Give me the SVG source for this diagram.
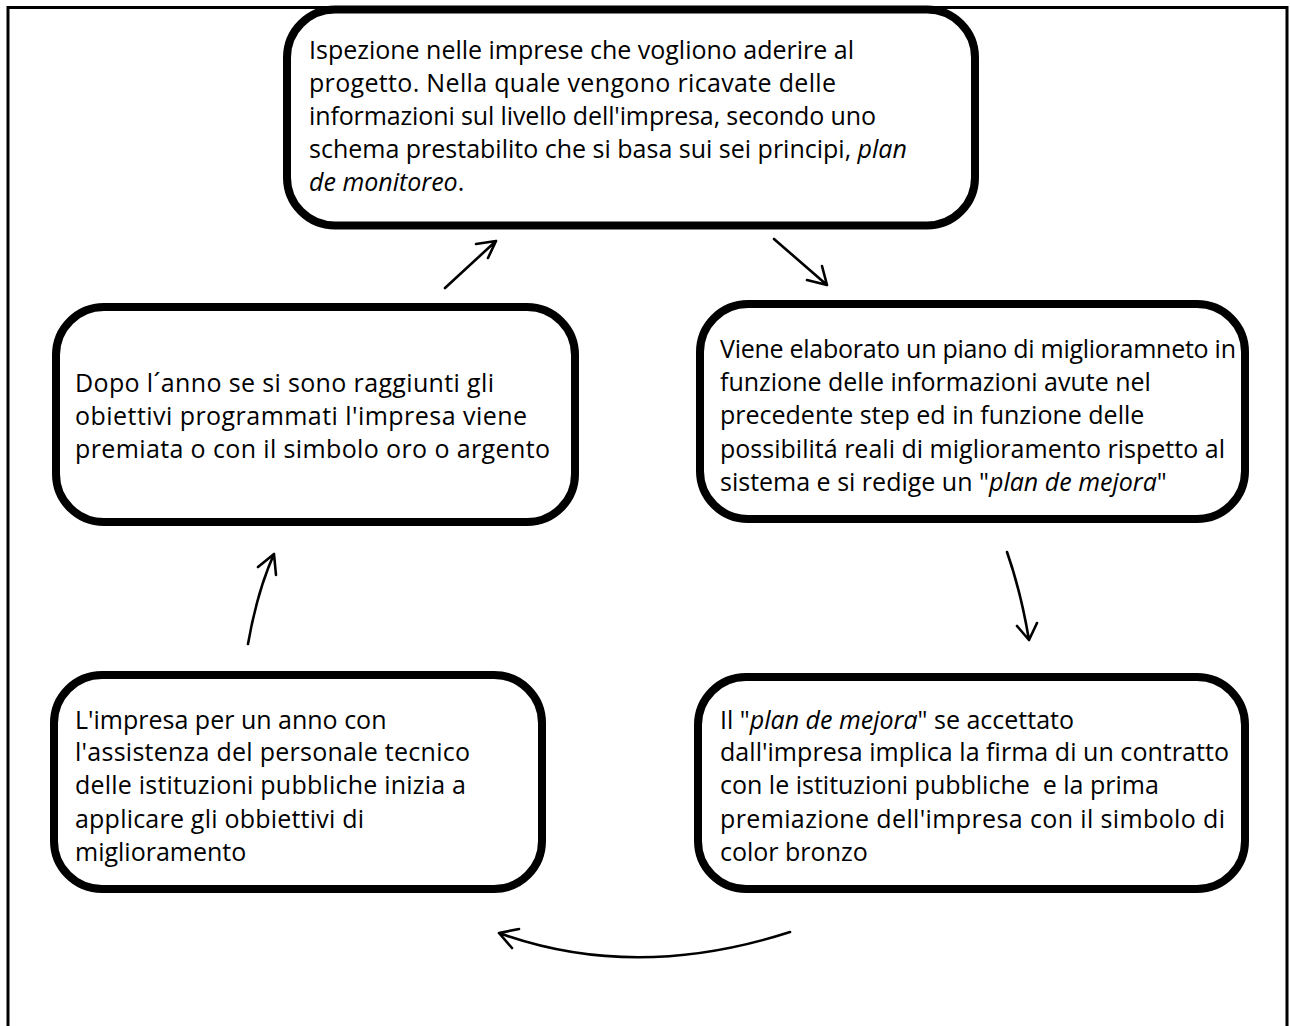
<svg xmlns="http://www.w3.org/2000/svg" width="1290" height="1026" viewBox="0 0 1290 1026">
  <style>
    .frame { fill: none; stroke: #000; stroke-width: 3; }
    .box { fill: #fff; stroke: #000; stroke-width: 8; }
    .txt { font-family: "Open Sans", "Liberation Sans", sans-serif; font-size: 25px; fill: #000; }
    .it { font-style: italic; }
    .arrow { fill: none; stroke: #000; stroke-width: 2.6; stroke-linecap: round; stroke-linejoin: round; }
  </style>
  <rect width="1290" height="1026" fill="#fff"/>
  <!-- outer page frame, open at the bottom -->
  <path class="frame" d="M8,1026 V7.5 H1287 V1026"/>

  <g id="node-ispezione">
    <rect class="box" x="287" y="9.5" width="688" height="216" rx="48"/>
    <text class="txt">
      <tspan x="309" y="59" textLength="545">Ispezione nelle imprese che vogliono aderire al</tspan>
      <tspan x="309" y="92" textLength="527">progetto. Nella quale vengono ricavate delle</tspan>
      <tspan x="309" y="125" textLength="567">informazioni sul livello dell'impresa, secondo uno</tspan>
      <tspan x="309" y="158">schema prestabilito che si basa sui sei principi, <tspan class="it">plan</tspan></tspan>
      <tspan x="309" y="191" class="it">de monitoreo</tspan><tspan>.</tspan>
    </text>
  </g>

  <g id="node-piano">
    <rect class="box" x="700" y="304" width="545" height="215" rx="48"/>
    <text class="txt">
      <tspan x="720" y="358" textLength="516">Viene elaborato un piano di miglioramneto in</tspan>
      <tspan x="720" y="391">funzione delle informazioni avute nel</tspan>
      <tspan x="720" y="424">precedente step ed in funzione delle</tspan>
      <tspan x="720" y="458" textLength="505">possibilitá reali di miglioramento rispetto al</tspan>
      <tspan x="720" y="491">sistema e si redige un "<tspan class="it">plan de mejora</tspan>"</tspan>
    </text>
  </g>

  <g id="node-contratto">
    <rect class="box" x="698" y="677" width="547" height="212" rx="48"/>
    <text class="txt">
      <tspan x="720" y="729">Il "<tspan class="it">plan de mejora</tspan>" se accettato</tspan>
      <tspan x="720" y="761" textLength="509">dall'impresa implica la firma di un contratto</tspan>
      <tspan x="720" y="794">con le istituzioni pubbliche&#160; e la prima</tspan>
      <tspan x="720" y="828" textLength="505">premiazione dell'impresa con il simbolo di</tspan>
      <tspan x="720" y="861">color bronzo</tspan>
    </text>
  </g>

  <g id="node-applicazione">
    <rect class="box" x="54" y="675" width="488" height="214" rx="48"/>
    <text class="txt">
      <tspan x="75" y="729">L'impresa per un anno con</tspan>
      <tspan x="75" y="761" textLength="395">l'assistenza del personale tecnico</tspan>
      <tspan x="75" y="794" textLength="391">delle istituzioni pubbliche inizia a</tspan>
      <tspan x="75" y="828" textLength="289">applicare gli obbiettivi di</tspan>
      <tspan x="75" y="861">miglioramento</tspan>
    </text>
  </g>

  <g id="node-premiazione">
    <rect class="box" x="56" y="307" width="519" height="215" rx="48"/>
    <text class="txt">
      <tspan x="75" y="392" textLength="419">Dopo l´anno se si sono raggiunti gli</tspan>
      <tspan x="75" y="425" textLength="452">obiettivi programmati l'impresa viene</tspan>
      <tspan x="75" y="458" textLength="475">premiata o con il simbolo oro o argento</tspan>
    </text>
  </g>

  <g id="connectors">
    <!-- premiazione -> ispezione -->
    <path class="arrow" d="M445,288 L496,241 M476,244 L496,241 L488,258"/>
    <!-- ispezione -> piano -->
    <path class="arrow" d="M774,239 L827,285 M807,280 L827,285 L822,266"/>
    <!-- piano -> contratto -->
    <path class="arrow" d="M1007,552 Q1021,592 1029,640 M1017,626 L1029,640 L1037,623"/>
    <!-- contratto -> applicazione -->
    <path class="arrow" d="M790,932 Q635,982 499,933 M519,929 L499,933 L512,948"/>
    <!-- applicazione -> premiazione -->
    <path class="arrow" d="M248,644 Q257,592 274,554 M258,567 L274,554 L276,575"/>
  </g>
</svg>
